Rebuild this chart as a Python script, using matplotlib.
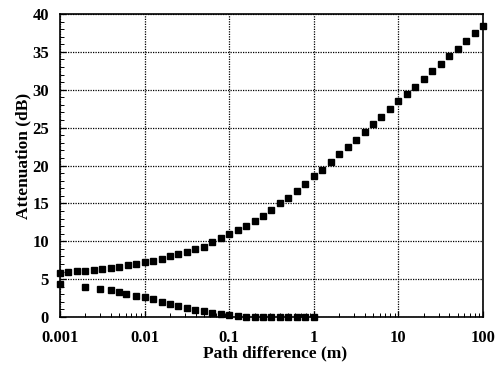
import numpy as np
import matplotlib
matplotlib.use('Agg')
import matplotlib.pyplot as plt
from matplotlib.ticker import MultipleLocator, LogLocator, NullFormatter, FixedLocator

# upper curve: 10 points per decade from 0.001 to 100
upper_exp = [-3.0 + k / 10 for k in range(51)]
upper_db = [5.85, 5.94, 6.03, 6.1, 6.2, 6.4, 6.5, 6.65, 6.8, 7.05,
            7.2, 7.45, 7.7, 8.0, 8.3, 8.6, 9.0, 9.3, 9.85, 10.4,
            10.95, 11.5, 12.05, 12.7, 13.4, 14.1, 15.0, 15.75, 16.7, 17.6,
            18.6, 19.4, 20.4, 21.5, 22.5, 23.4, 24.4, 25.5, 26.4, 27.5,
            28.5, 29.4, 30.4, 31.4, 32.5, 33.4, 34.4, 35.4, 36.4, 37.5,
            38.4]

# lower curve
lower_x = [0.001, 0.002, 0.003, 0.004, 0.005, 0.006, 0.008] + \
          [10 ** (-2 + k / 10) for k in range(21)]
lower_db = [4.3, 4.0, 3.75, 3.55, 3.35, 3.1, 2.8,
            2.6, 2.35, 2.0, 1.75, 1.5, 1.2, 0.95, 0.8, 0.57, 0.35,
            0.22, 0.13, 0.05, 0.02, 0.0, 0.0, 0.0, 0.0, 0.0, 0.0, 0.0]

xticks = [0.001, 0.01, 0.1, 1, 10, 100]
xticklabels = ['0.001', '0.01', '0.1', '1', '10', '100']

upper_x = [10 ** e for e in upper_exp]

fig = plt.figure(figsize=(4.97, 3.65), dpi=100)
ax = fig.add_axes([0.1207, 0.1315, 0.8511, 0.8301])

ax.plot(upper_x, upper_db, 's', color='black', markersize=5, clip_on=False)
ax.plot(lower_x, lower_db, 's', color='black', markersize=5, clip_on=False)

ax.set_xscale('log')
ax.set_xlim(0.001, 100)
ax.set_ylim(0, 40)

ax.xaxis.set_major_locator(FixedLocator(xticks))
ax.set_xticklabels(xticklabels)
ax.xaxis.set_minor_locator(LogLocator(base=10, subs=np.arange(2, 10)))
ax.xaxis.set_minor_formatter(NullFormatter())
ax.yaxis.set_major_locator(MultipleLocator(5))
ax.yaxis.set_minor_locator(MultipleLocator(1))

ax.grid(True, which='major', color='black', linestyle=(0, (1, 1)), linewidth=0.9)
ax.tick_params(which='both', direction='in', top=False, right=False)
ax.tick_params(which='major', length=4, width=0.9)
ax.tick_params(which='minor', length=3, width=0.7)
ax.tick_params(axis='x', which='major', pad=9)
ax.tick_params(axis='y', which='major', pad=8)

for s in ax.spines.values():
    s.set_linewidth(1.2)

fnt = {'family': 'Liberation Serif', 'weight': 'bold', 'size': 12.5}
for lab in ax.get_xticklabels() + ax.get_yticklabels():
    lab.set_fontfamily('Liberation Serif')
    lab.set_fontweight('bold')
    lab.set_fontsize(12)

ax.set_xlabel('Path difference (m)', fontdict=fnt)
ax.set_ylabel('Attenuation (dB)', fontdict=fnt)
ax.xaxis.set_label_coords(0.508, -0.093)
ax.yaxis.set_label_coords(-0.068, 0.53)

fig.savefig('out.png', dpi=100)
